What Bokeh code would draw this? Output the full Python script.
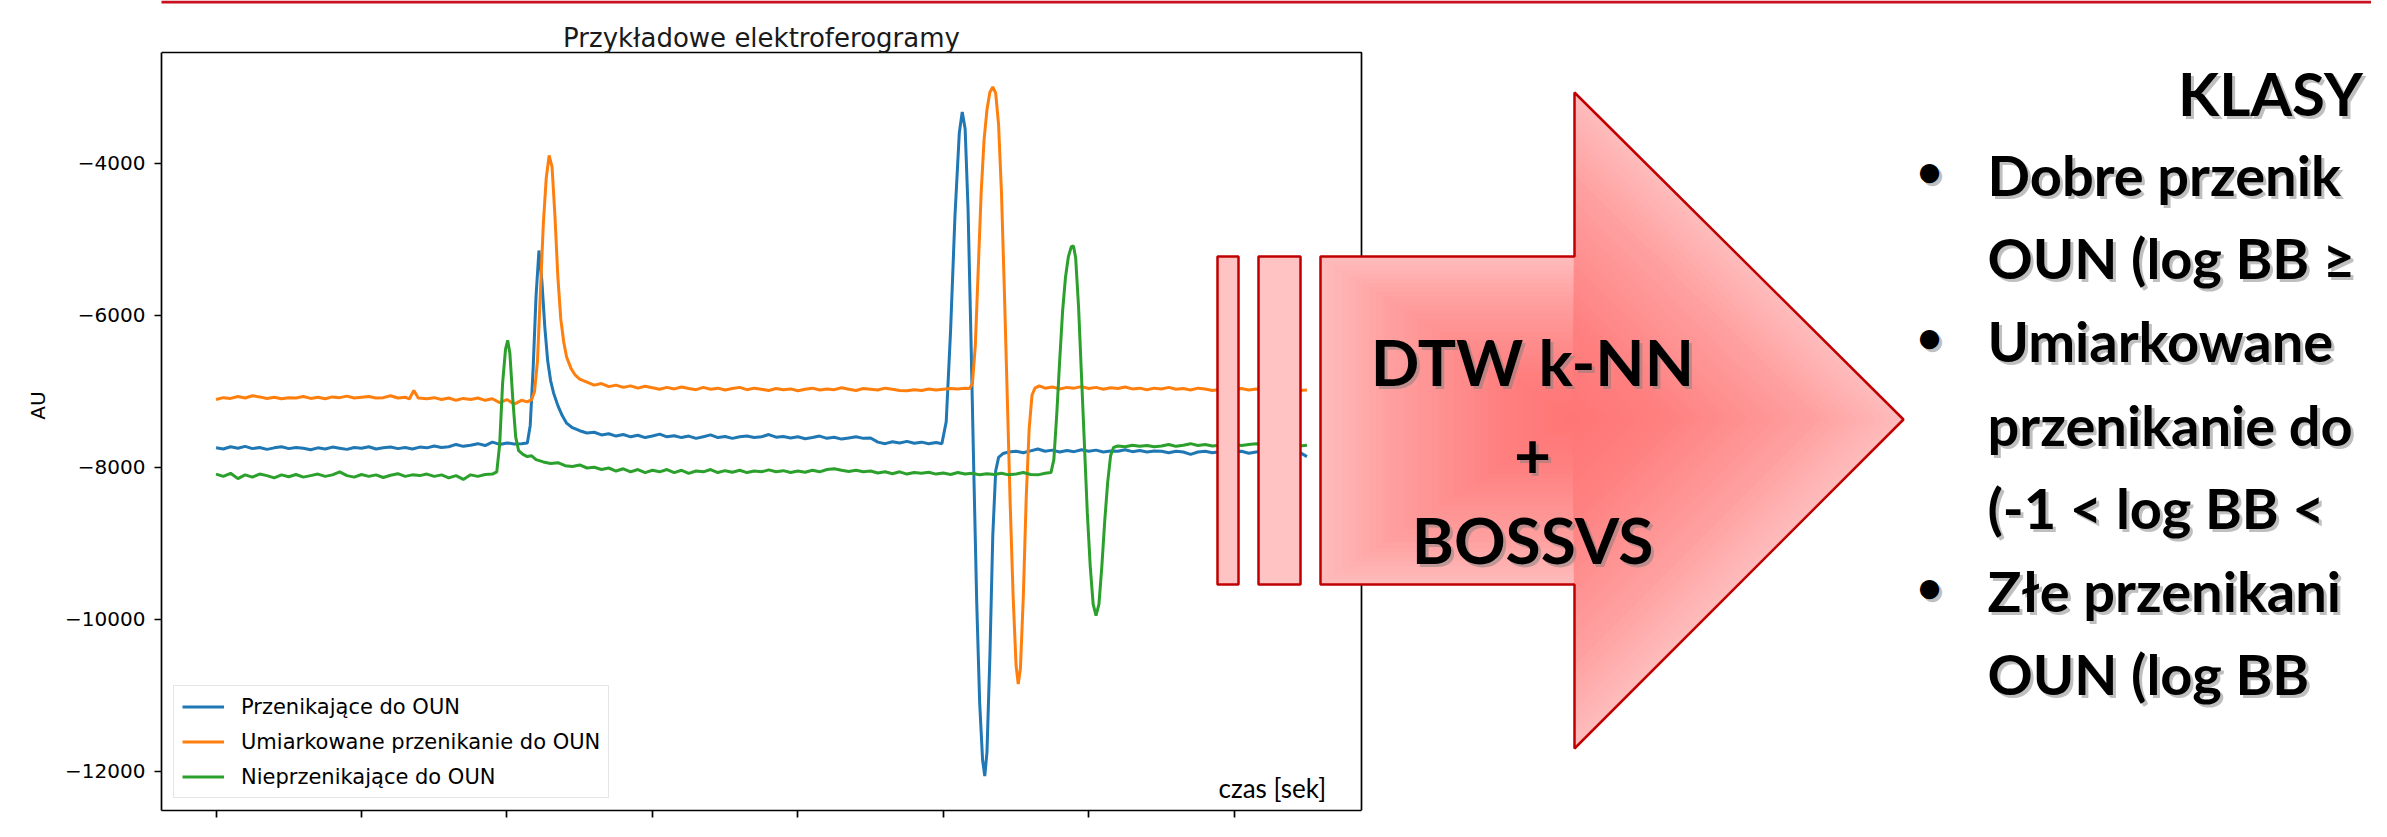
from bokeh.plotting import figure
from bokeh.models import Range1d, FixedTicker, Label, PolyAnnotation
from bokeh.embed import file_html
from bokeh.resources import INLINE

# ---------------- data ----------------
TITLE = "Przykładowe elektroferogramy"
Y_LABEL = "AU"
X_LABEL = "czas [sek]"
SERIES = ["Przenikające do OUN", "Umiarkowane przenikanie do OUN", "Nieprzenikające do OUN"]
COLORS = ["#1f77b4", "#ff7f0e", "#2ca02c"]
X_TICKS = [0, 100, 200, 300, 400, 500, 600, 700]
Y_TICKS = [-12000, -10000, -8000, -6000, -4000]
Y_TICK_LABELS = ["−12000", "−10000", "−8000", "−6000", "−4000"]

blue = [(0, -7745), (5, -7760), (10, -7730), (15, -7750), (20, -7725), (25, -7755), (30, -7740), (35, -7765),
        (40, -7745), (45, -7730), (50, -7755), (55, -7740), (60, -7750), (65, -7770), (70, -7745), (75, -7760),
        (80, -7735), (85, -7750), (90, -7765), (95, -7740), (100, -7750), (105, -7730), (110, -7760), (115, -7745),
        (120, -7735), (125, -7755), (130, -7740), (135, -7760), (140, -7735), (145, -7745), (150, -7720), (155, -7740),
        (160, -7730), (165, -7700), (170, -7725), (175, -7710), (180, -7690), (185, -7715), (190, -7670), (195, -7700),
        (200, -7680), (205, -7695), (210, -7690), (214, -7680), (216, -7450), (218, -6700), (220, -5750), (222, -5150),
        (224, -5550), (226, -6150), (228, -6600), (230, -6860), (232, -7020), (235, -7190), (238, -7320), (241, -7420),
        (245, -7480), (250, -7520), (255, -7550), (260, -7540), (265, -7575), (270, -7560), (275, -7590), (280, -7570),
        (285, -7600), (290, -7580), (295, -7610), (300, -7590), (305, -7565), (310, -7600), (315, -7585), (320, -7610),
        (325, -7590), (330, -7620), (335, -7600), (340, -7575), (345, -7610), (350, -7595), (355, -7620), (360, -7600),
        (365, -7590), (370, -7610), (375, -7600), (380, -7570), (385, -7605), (390, -7595), (395, -7615), (400, -7600),
        (405, -7625), (410, -7610), (415, -7590), (420, -7620), (425, -7605), (430, -7630), (435, -7615), (440, -7600),
        (445, -7620), (450, -7615), (455, -7670), (460, -7690), (465, -7665), (470, -7680), (475, -7660), (480, -7685),
        (485, -7670), (490, -7690), (495, -7675), (499, -7690), (502, -7400), (505, -6200), (508, -4700), (511, -3600),
        (513, -3330), (515, -3550), (517, -4600), (519, -6300), (521, -8100), (523, -9800), (525, -11100), (527, -11850),
        (528.5, -12060), (530, -11750), (532, -10500), (534, -8900), (536, -8050), (538, -7870), (541, -7820),
        (545, -7800), (550, -7790), (555, -7810), (560, -7785), (565, -7760), (570, -7790), (575, -7775), (580, -7800),
        (585, -7780), (590, -7795), (595, -7770), (600, -7790), (605, -7775), (610, -7800), (615, -7785), (620, -7790),
        (625, -7770), (630, -7795), (635, -7780), (640, -7800), (645, -7785), (650, -7790), (655, -7810), (660, -7790),
        (665, -7800), (670, -7830), (675, -7800), (680, -7790), (685, -7810), (690, -7795), (695, -7780), (700, -7800),
        (705, -7790), (710, -7815), (715, -7800), (720, -7790), (725, -7810), (730, -7795), (735, -7800), (740, -7790),
        (745, -7805), (750, -7860)]

orange = [(0, -7110), (5, -7085), (10, -7095), (15, -7070), (20, -7090), (25, -7060), (30, -7075), (35, -7095),
          (40, -7080), (45, -7100), (50, -7085), (55, -7090), (60, -7070), (65, -7095), (70, -7080), (75, -7100),
          (80, -7075), (85, -7085), (90, -7065), (95, -7090), (100, -7080), (105, -7070), (110, -7090), (115, -7085),
          (120, -7060), (125, -7090), (130, -7080), (133, -7100), (136, -6990), (139, -7090), (145, -7100),
          (150, -7085), (155, -7110), (160, -7090), (165, -7120), (170, -7095), (175, -7110), (180, -7090),
          (185, -7120), (190, -7100), (195, -7150), (200, -7110), (205, -7170), (210, -7120), (214, -7140),
          (217, -7110), (219, -7000), (221, -6600), (223, -5700), (225, -4800), (227, -4200), (229, -3900),
          (231, -4050), (233, -4700), (235, -5500), (237, -6050), (239, -6350), (241, -6550), (244, -6700),
          (247, -6790), (250, -6840), (255, -6880), (260, -6920), (265, -6900), (270, -6940), (275, -6920),
          (280, -6950), (285, -6930), (290, -6960), (295, -6935), (300, -6955), (305, -6975), (310, -6950),
          (315, -6970), (320, -6945), (325, -6965), (330, -6980), (335, -6950), (340, -6975), (345, -6960),
          (350, -6985), (355, -6965), (360, -6950), (365, -6980), (370, -6960), (375, -6975), (380, -6990),
          (385, -6965), (390, -6980), (395, -6970), (400, -6995), (405, -6975), (410, -6960), (415, -6985),
          (420, -6970), (425, -6980), (430, -6955), (435, -6975), (440, -6990), (445, -6965), (450, -6975),
          (455, -6985), (460, -6960), (465, -6975), (470, -6990), (475, -6995), (480, -6980), (485, -6990),
          (490, -6970), (495, -6985), (500, -6975), (505, -6965), (510, -6970), (515, -6960), (518, -6965),
          (520, -6900), (522, -6400), (524, -5400), (526, -4400), (528, -3700), (530, -3300), (532, -3070),
          (534, -3000), (536, -3080), (538, -3500), (540, -4400), (542, -5700), (544, -7100), (546, -8500),
          (548, -9700), (550, -10600), (551.5, -10850), (553, -10650), (555, -9700), (557, -8400), (559, -7500),
          (561, -7050), (563, -6960), (566, -6930), (570, -6960), (575, -6945), (580, -6970), (585, -6950),
          (590, -6960), (595, -6940), (600, -6965), (605, -6950), (610, -6975), (615, -6955), (620, -6965),
          (625, -6945), (630, -6970), (635, -6960), (640, -6980), (645, -6960), (650, -6970), (655, -6950),
          (660, -6975), (665, -6965), (670, -6985), (675, -6960), (680, -6970), (685, -6990), (690, -6975),
          (695, -6960), (700, -6980), (705, -6965), (710, -6985), (715, -6970), (720, -6975), (725, -6960),
          (730, -6985), (735, -6995), (740, -6975), (745, -6990), (750, -6985)]

green = [(0, -8090), (5, -8120), (10, -8080), (15, -8150), (20, -8100), (25, -8130), (30, -8090), (35, -8110),
         (40, -8140), (45, -8100), (50, -8125), (55, -8095), (60, -8130), (65, -8110), (70, -8090), (75, -8120),
         (80, -8100), (85, -8060), (90, -8110), (95, -8130), (100, -8095), (105, -8120), (110, -8100), (115, -8135),
         (120, -8105), (125, -8085), (130, -8120), (135, -8100), (140, -8110), (145, -8090), (150, -8120),
         (155, -8100), (160, -8140), (165, -8110), (170, -8160), (175, -8100), (180, -8120), (185, -8095),
         (190, -8090), (193, -8060), (195, -7700), (197, -6900), (199, -6450), (200.5, -6330), (202, -6500),
         (204, -7100), (206, -7600), (208, -7780), (211, -7830), (214, -7860), (217, -7850), (220, -7900),
         (225, -7930), (230, -7950), (235, -7940), (240, -7980), (245, -7990), (250, -7970), (255, -8010),
         (260, -8000), (265, -8030), (270, -8010), (275, -8050), (280, -8020), (285, -8060), (290, -8030),
         (295, -8070), (300, -8040), (305, -8060), (310, -8030), (315, -8070), (320, -8040), (325, -8080),
         (330, -8050), (335, -8060), (340, -8030), (345, -8070), (350, -8045), (355, -8065), (360, -8040),
         (365, -8070), (370, -8050), (375, -8060), (380, -8035), (385, -8060), (390, -8045), (395, -8070),
         (400, -8050), (405, -8065), (410, -8040), (415, -8060), (420, -8030), (425, -8020), (430, -8040),
         (435, -8055), (440, -8040), (445, -8060), (450, -8050), (455, -8075), (460, -8060), (465, -8085),
         (470, -8060), (475, -8090), (480, -8070), (485, -8080), (490, -8065), (495, -8090), (500, -8075),
         (505, -8095), (510, -8070), (515, -8090), (520, -8080), (525, -8100), (530, -8085), (535, -8095),
         (540, -8080), (545, -8100), (550, -8090), (555, -8070), (560, -8095), (565, -8100), (570, -8080),
         (574, -8070), (576, -7900), (578, -7300), (580, -6600), (582, -5950), (584, -5500), (586, -5230),
         (588, -5100), (589.5, -5090), (591, -5250), (593, -5900), (595, -6800), (597, -7700), (599, -8600),
         (601, -9300), (603, -9800), (605, -9950), (607, -9800), (609, -9300), (611, -8700), (613, -8200),
         (615, -7850), (617, -7740), (620, -7720), (625, -7730), (630, -7710), (635, -7725), (640, -7715),
         (645, -7730), (650, -7720), (655, -7700), (660, -7725), (665, -7710), (670, -7690), (675, -7715),
         (680, -7700), (685, -7720), (690, -7710), (695, -7725), (700, -7700), (705, -7715), (710, -7700),
         (715, -7690), (720, -7710), (725, -7700), (730, -7720), (735, -7710), (740, -7705), (745, -7720),
         (750, -7710)]

ARROW_LINES = ["DTW k-NN", "+", "BOSSVS"]
CLASS_HEADER = "KLASY"
# the slide text runs past the right edge; only the visible part is kept
CLASS_LINES = ["Dobre przenik", "OUN (log BB ≥", "Umiarkowane", "przenikanie do",
               "(-1 < log BB <", "Złe przenikani", "OUN  (log BB"]
BULLET_LINES = [0, 2, 5]

# ---------------- layout ----------------
W, H = 2371, 821
CL, CR, CT, CB = 161, 1361, 52, 810           # chart box in figure pixels
X0, X1 = -37.5, 787.5                          # data limits of the chart box
Y0, Y1 = -12513, -2547
OFF = 8                                        # page margin
KX = (X1 - X0) / (CR - CL)
KY = (Y1 - Y0) / (CB - CT)
# the frame spans from the chart's left/bottom edges to the canvas top/right
XR_END = X1 + (W - CR) * KX
YR_END = Y1 + CT * KY


def sx(rx):
    """reference-page x pixel -> data x"""
    return X0 + (rx - OFF - CL) * KX


def sy(ry):
    """reference-page y pixel -> data y"""
    return Y1 - (ry - OFF - CT) * KY


p = figure(width=W, height=H, x_range=Range1d(X0, XR_END), y_range=Range1d(Y0, YR_END),
           output_backend="svg", toolbar_location=None, title=None,
           min_border_left=CL, min_border_right=0, min_border_top=0, min_border_bottom=H - CB)
p.background_fill_color = "white"
p.border_fill_color = "white"
p.outline_line_color = None
p.xgrid.visible = False
p.ygrid.visible = False

for ax in (p.xaxis, p.yaxis):
    ax.axis_line_color = "black"
    ax.axis_line_width = 1.7
    ax.major_tick_out = 7
    ax.major_tick_in = 0
    ax.minor_tick_out = 0
    ax.minor_tick_in = 0
    ax.major_tick_line_width = 1.7
    ax.major_tick_line_color = "black"
    ax.major_label_text_font = "DejaVu Sans"
    ax.major_label_text_color = "black"

p.xaxis.bounds = (X0, X1)
p.yaxis.bounds = (Y0, Y1)

p.xaxis.ticker = FixedTicker(ticks=X_TICKS)
p.xaxis.major_label_text_color = None      # tick labels fall below the slide edge
p.xaxis.major_label_standoff = 0

p.yaxis.ticker = FixedTicker(ticks=Y_TICKS)
p.yaxis.major_label_overrides = dict(zip(Y_TICKS, Y_TICK_LABELS))
p.yaxis.major_label_text_font_size = "20px"
p.yaxis.major_label_standoff = 9
p.yaxis.axis_label = Y_LABEL
p.yaxis.axis_label_text_font = "DejaVu Sans"
p.yaxis.axis_label_text_font_style = "normal"
p.yaxis.axis_label_text_font_size = "20px"
p.yaxis.axis_label_text_color = "black"
p.yaxis.axis_label_standoff = 12

for pts, name, col in zip([blue, orange, green], SERIES, COLORS):
    p.line([a for a, b in pts], [b for a, b in pts], line_color=col, line_width=3, legend_label=name)

lg = p.legend[0]
lg.location = "bottom_left"
lg.margin = 12
lg.padding = 8
lg.spacing = 10
lg.glyph_width = 42
lg.glyph_height = 25
lg.label_height = 25
lg.label_standoff = 17
lg.label_text_font = "DejaVu Sans"
lg.label_text_font_size = "21px"
lg.label_text_color = "black"
lg.border_line_color = "#cccccc"
lg.border_line_width = 1.5
lg.background_fill_alpha = 0.8

# top and right sides of the chart box
p.add_layout(PolyAnnotation(xs=[X0, X1, X1, X1], ys=[Y1, Y1, Y0, Y1], fill_color=None,
                            line_color="black", line_width=1.7, line_alpha=1))

# title and x label
p.add_layout(Label(x=(X0 + X1) / 2, y=sy(45), text=TITLE, text_font="DejaVu Sans", text_font_size="26px",
                   text_align="center", text_baseline="alphabetic", text_color="#1a1a1a"))
p.add_layout(Label(x=sx(1226), y=sy(795), text=X_LABEL, text_font="Lato", text_font_size="26px",
                   text_align="left", text_baseline="alphabetic", text_color="black"))

# top red rule
p.add_layout(PolyAnnotation(xs=[sx(25), sx(2400), sx(2400), sx(25)], ys=[sy(8), sy(8), sy(11), sy(11)],
                            fill_color="#C8101E", fill_alpha=1, line_color=None))

# arrow
RED = "#C00000"
for (l, r) in [(1225, 1246), (1266, 1308)]:
    p.add_layout(PolyAnnotation(xs=[sx(l), sx(r), sx(r), sx(l)], ys=[sy(264), sy(264), sy(592), sy(592)],
                                fill_color="#FFC3C3", fill_alpha=1, line_color=RED, line_alpha=1, line_width=2.5))

arrow_pts = [(1328, 264), (1582, 264), (1582, 100), (1911, 427), (1582, 756), (1582, 592), (1328, 592)]
p.add_layout(PolyAnnotation(xs=[sx(a) for a, b in arrow_pts], ys=[sy(b) for a, b in arrow_pts],
                            fill_color="#FFBBBB", fill_alpha=1, line_color=None))
cx, cy = 1580, 425
n_layers = 36
for k in range(1, n_layers):
    s = 1 - k / n_layers
    p.add_layout(PolyAnnotation(xs=[sx(cx + (a - cx) * s) for a, b in arrow_pts],
                                ys=[sy(cy + (b - cy) * s) for a, b in arrow_pts],
                                fill_color="#FF6060", fill_alpha=0.03, line_color=None))
p.add_layout(PolyAnnotation(xs=[sx(a) for a, b in arrow_pts], ys=[sy(b) for a, b in arrow_pts],
                            fill_color=None, line_color=RED, line_alpha=1, line_width=2.5))


def bold_text(text, rx, ry, size, align):
    p.add_layout(Label(x=sx(rx), y=sy(ry), x_offset=3, y_offset=-3, text=text, text_font="Lato",
                       text_font_style="bold", text_font_size=size, text_align=align,
                       text_baseline="alphabetic", text_color="#808080", text_alpha=0.5))
    p.add_layout(Label(x=sx(rx), y=sy(ry), text=text, text_font="Lato", text_font_style="bold",
                       text_font_size=size, text_align=align, text_baseline="alphabetic", text_color="black"))


for txt, base in zip(ARROW_LINES, [369, 462, 547]):
    bold_text(txt, 1540, base, "64px", "center")

bold_text(CLASS_HEADER, 2278, 100, "60px", "center")
baselines = [182, 265, 348, 432, 515, 598, 681]
for i, (txt, base) in enumerate(zip(CLASS_LINES, baselines)):
    if i in BULLET_LINES:
        bold_text("•", 1937, base - 5, "44px", "center")
    bold_text(txt, 1995, base, "56px", "left")

open("out.html", "w").write(file_html(p, INLINE))
